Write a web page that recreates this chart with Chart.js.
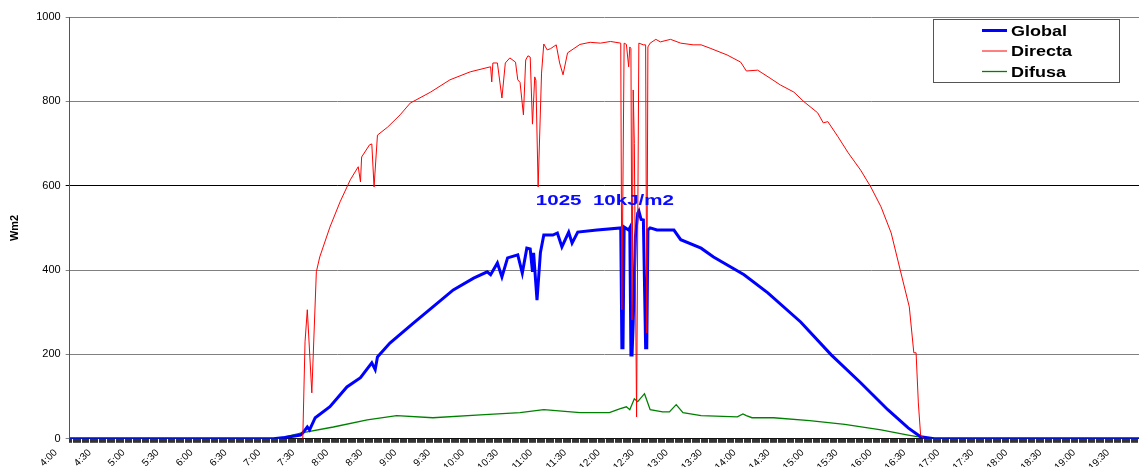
<!DOCTYPE html>
<html>
<head>
<meta charset="utf-8">
<script src="https://cdn.jsdelivr.net/npm/chart.js@4.4.1/dist/chart.umd.min.js"></script>
<style>
  html, body { margin: 0; padding: 0; background: #fff; }
  #wrap { width: 1139px; height: 467px; position: relative; }
</style>
</head>
<body>
<div id="wrap"><canvas id="radChart"></canvas></div>
<script>
// Times are minutes after midnight, values in W/m2
const globalTimes = [240, 420, 430, 444, 446, 450, 452, 457, 470, 485, 497, 507, 510, 512, 523, 544, 561, 579, 597, 609,
    612, 618, 622, 627, 636, 640, 644, 647, 649, 650, 653, 656, 659, 667, 671, 675, 681, 684, 689, 706,
    727, 728, 729, 730, 734, 735, 736, 737, 738, 740, 742, 743, 745, 747, 749, 750, 751, 753, 759, 774,
    780, 798, 809, 836, 857, 886, 913, 939, 963, 981, 992, 1004, 1185];
const globalValues = [0, 0, 3, 9, 14, 28, 21, 50, 76, 123, 145, 180, 164, 194, 227, 275, 313, 353, 381, 396,
    389, 417, 384, 429, 436, 393, 452, 450, 396, 441, 329, 441, 483, 483, 488, 455, 490, 464, 490, 495,
    500, 216, 216, 502, 495, 500, 199, 199, 275, 480, 535, 540, 520, 519, 216, 216, 495, 500, 495, 495,
    472, 452, 431, 389, 346, 277, 199, 133, 69, 26, 5, 0, 0];

// direct beam only shows between sunrise and sunset, the flat zero runs sit under the global line
const directaTimes = [446, 448, 450, 454, 458, 461, 470, 479, 488, 495, 497, 498, 505, 507, 509, 512, 521, 532, 541,
    559, 576, 594, 612, 613, 614, 618, 622, 625, 629, 634, 636, 638, 641, 643, 645, 647, 649, 651, 652,
    654, 657, 659, 662, 665, 670, 673, 676, 680, 691, 700, 709, 718, 727, 728, 730, 732, 734, 735, 736,
    737, 738, 739, 741, 743, 747, 749, 750, 751, 753, 758, 762, 771, 780, 791, 798, 806, 821, 833, 838,
    848, 859, 868, 880, 889, 901, 906, 910, 919, 928, 939, 948, 957, 966, 974, 982, 986, 988, 990, 992,
    995];
const directaValues = [0, 230, 306, 109, 396, 431, 502, 562, 614, 645, 609, 668, 697, 699, 597, 720, 739, 768, 796,
    822, 851, 870, 882, 846, 891, 891, 808, 891, 903, 893, 851, 845, 768, 898, 908, 905, 746, 858, 850,
    597, 867, 936, 922, 925, 934, 891, 863, 915, 935, 940, 938, 942, 938, 306, 938, 935, 882, 929, 925,
    282, 827, 700, 52, 938, 934, 934, 251, 929, 938, 947, 941, 947, 938, 934, 934, 926, 910, 893, 872,
    874, 855, 839, 822, 799, 773, 749, 752, 716, 678, 637, 597, 550, 488, 400, 313, 204, 204, 85, 9,
    0];

const difusaTimes = [240, 423, 445, 473, 503, 529, 561, 603, 638, 659, 691, 717, 726, 732, 735, 739, 742, 748, 753, 764,
    770, 776, 782, 798, 830, 835, 838, 843, 862, 894, 925, 957, 981, 989, 998, 1006, 1185];
const difusaValues = [0, 0, 14, 28, 45, 55, 50, 57, 62, 69, 62, 62, 71, 76, 69, 95, 88, 107, 69, 64,
    64, 81, 62, 55, 52, 59, 55, 50, 50, 43, 34, 21, 9, 5, 2, 0, 0];

const seriesNames = ['Global', 'Directa', 'Difusa'];
const noteText = '1025  10kJ/m2';
const noteAt = { x: 713, y: 563 };

const FONT = "Arial, 'Liberation Sans', sans-serif";

function toPoints(times, values) {
    return times.map((t, i) => ({ x: t, y: values[i] }));
}

function hhmm(v) {
    return Math.floor(v / 60) + ':' + String(v % 60).padStart(2, '0');
}

// Boxed legend in the top-right corner of the plot
const legendBox = {
    id: 'legendBox',
    afterDraw(chart) {
        const ctx = chart.ctx;
        const area = chart.chartArea;
        const left = area.right - 206, top = area.top + 2;
        ctx.save();
        ctx.fillStyle = '#fff';
        ctx.fillRect(left, top, 186, 63);
        ctx.strokeStyle = '#555';
        ctx.lineWidth = 1;
        ctx.strokeRect(left + 0.5, top + 0.5, 186, 63);
        chart.data.datasets.forEach((ds, i) => {
            const y = top + 11.5 + i * 20.5;
            ctx.strokeStyle = ds.borderColor;
            ctx.lineWidth = ds.borderWidth;
            ctx.beginPath();
            ctx.moveTo(left + 49, y);
            ctx.lineTo(left + 74, y);
            ctx.stroke();
            ctx.save();
            ctx.translate(left + 78, y + 1);
            ctx.scale(1.2, 1);
            ctx.fillStyle = '#000';
            ctx.font = 'bold 15px ' + FONT;
            ctx.textBaseline = 'middle';
            ctx.fillText(ds.label, 0, 0);
            ctx.restore();
        });
        ctx.restore();
    }
};

// Daily total written above the curves
const dayNote = {
    id: 'dayNote',
    afterDatasetsDraw(chart) {
        const ctx = chart.ctx;
        const px = chart.scales.x.getPixelForValue(noteAt.x);
        const py = chart.scales.y.getPixelForValue(noteAt.y);
        ctx.save();
        ctx.translate(px, py);
        ctx.scale(1.37, 1);
        ctx.fillStyle = '#0a0aff';
        ctx.font = 'bold 15px ' + FONT;
        ctx.textAlign = 'center';
        ctx.textBaseline = 'middle';
        ctx.fillText(noteText, 0, 0);
        ctx.restore();
    }
};

new Chart(document.getElementById('radChart'), {
    type: 'line',
    data: {
        datasets: [
            { label: seriesNames[0], data: toPoints(globalTimes, globalValues), borderColor: '#0000ff', borderWidth: 3, order: 1 },
            { label: seriesNames[1], data: toPoints(directaTimes, directaValues), borderColor: '#ff0000', borderWidth: 1, order: 0 },
            { label: seriesNames[2], data: toPoints(difusaTimes, difusaValues), borderColor: '#008000', borderWidth: 1.3, order: 2 }
        ]
    },
    options: {
        responsive: true,
        maintainAspectRatio: false,
        animation: false,
        elements: { point: { radius: 0 }, line: { tension: 0 } },
        layout: { padding: { top: 17, right: 0, bottom: -10, left: 0 } },
        plugins: { legend: { display: false }, tooltip: { enabled: false } },
        scales: {
            x: {
                type: 'linear',
                min: 240,
                max: 1185,
                // plot runs right up to the edge of the picture
                afterFit: s => { s.paddingRight = 0; },
                grid: { drawOnChartArea: false, tickLength: 4, color: '#333' },
                border: { color: '#111' },
                ticks: {
                    stepSize: 1,
                    autoSkip: false,
                    minRotation: 45,
                    maxRotation: 45,
                    labelOffset: -14,
                    padding: 4,
                    color: '#000',
                    font: { family: FONT, size: 10 },
                    callback: v => (v % 30 === 0 ? hhmm(v) : '')
                }
            },
            y: {
                min: 0,
                max: 1000,
                ticks: {
                    stepSize: 200,
                    padding: 5,
                    color: '#000',
                    font: { family: FONT, size: 11 },
                    callback: v => String(v)
                },
                grid: { color: c => (c.tick && c.tick.value === 600 ? '#000' : '#808080'), tickLength: 4 },
                border: { color: '#555' },
                title: {
                    display: true,
                    text: 'Wm2',
                    color: '#000',
                    font: { family: FONT, size: 11, weight: 'bold' },
                    padding: { top: 8, bottom: 10 }
                }
            }
        }
    },
    plugins: [legendBox, dayNote]
});
</script>
</body>
</html>
